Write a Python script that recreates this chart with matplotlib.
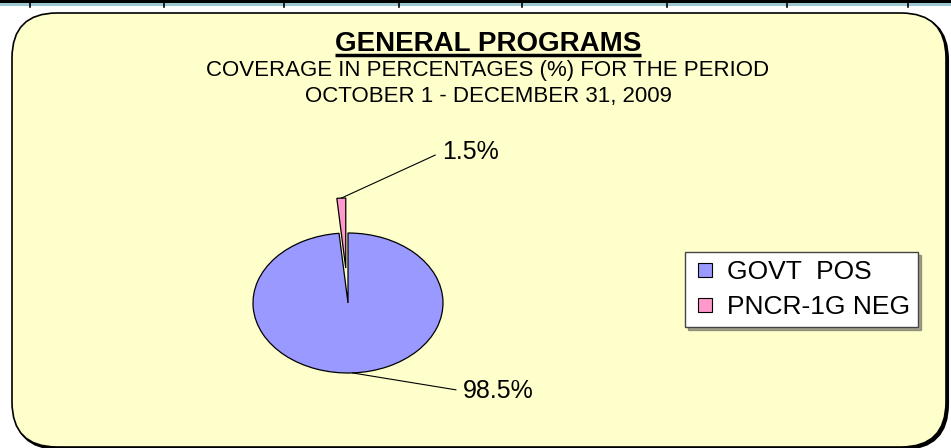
import matplotlib.pyplot as plt
import numpy as np
from matplotlib.patches import FancyBboxPatch
from matplotlib.lines import Line2D

plt.rcParams['font.family'] = ['Liberation Sans', 'DejaVu Sans']

# data
labels = ['GOVT  POS', 'PNCR-1G NEG']
values = [98.5, 1.5]
colors = ['#9999FF', '#FF99CC']
explode = [0, 0.5]

title = 'GENERAL PROGRAMS'
subtitle = ['COVERAGE IN PERCENTAGES (%) FOR THE PERIOD',
            'OCTOBER 1 - DECEMBER 31, 2009']

# where the value labels sit (pie axes units)
label_pos = [(1.21, -1.357), (0.989, 2.057)]

W, H = 951, 448
fig = plt.figure(figsize=(W / 100, H / 100), dpi=100)
fig.patch.set_facecolor('white')

# background axes in pixel units
bg = fig.add_axes([0, 0, 1, 1])
bg.set_xlim(0, W)
bg.set_ylim(H, 0)
bg.axis('off')

# bit of the table above the chart
bg.fill_between([0, W], 0, 3, color='black', lw=0)
bg.fill_between([0, W], 3, 6, color='#9cc9d0', lw=0)
for x in [30, 164, 284, 399, 522, 667, 787, 908]:
    bg.plot([x, x], [0, 7], color='black', lw=1.2)

# chart area, rounded with shadow
bstyle = 'round,pad=0,rounding_size=45'
bg.add_patch(FancyBboxPatch((14, 15), 934, 434, boxstyle=bstyle,
                            fc='black', ec='black', lw=1.5))
bg.add_patch(FancyBboxPatch((12, 13), 934, 434, boxstyle=bstyle,
                            fc='#FFFFCC', ec='black', lw=1.2))

# titles
t = bg.text(488, 51, title, ha='center', va='baseline',
            fontsize=20, fontweight='bold')
bg.text(488, 76, subtitle[0], ha='center', va='baseline', fontsize=16)
bg.text(488, 102, subtitle[1], ha='center', va='baseline', fontsize=16)

# pie
ax = fig.add_axes([253 / W, (H - 373) / H, 190 / W, 140 / H])
wedges, _ = ax.pie(values, colors=colors, explode=explode, startangle=90,
                   counterclock=False,
                   wedgeprops=dict(edgecolor='black', linewidth=0.9))
ax.set_aspect('auto')
ax.set_xlim(-1, 1)
ax.set_ylim(-1, 1)
for w in wedges:
    w.set_clip_on(False)

for w, v, pos in zip(wedges, values, label_pos):
    ang = np.deg2rad((w.theta1 + w.theta2) / 2)
    cx, cy = w.center
    xy = (cx + w.r * np.cos(ang), cy + w.r * np.sin(ang))
    ax.annotate(f'{v}%', xy=xy, xytext=pos, ha='left', va='baseline',
                fontsize=18, annotation_clip=False,
                arrowprops=dict(arrowstyle='-', color='black', lw=0.8,
                                shrinkA=3, shrinkB=0, relpos=(0, 0.5)))

# legend
handles = [Line2D([], [], ls='', marker='s', markersize=10, mfc=c,
                  mec='black', mew=0.8) for c in colors]
leg = fig.legend(handles, labels, loc='upper left',
                 bbox_to_anchor=(685 / W, 1 - 252 / H),
                 bbox_transform=fig.transFigure, borderaxespad=0,
                 fontsize=19, frameon=True, fancybox=False, shadow=True,
                 framealpha=1, borderpad=0.3, labelspacing=0.43,
                 handlelength=0.9, handletextpad=0.38)
leg.get_frame().set_edgecolor('#444444')
leg.get_frame().set_linewidth(1)

# underline the title
fig.canvas.draw()
bb = t.get_window_extent()
bg.plot([bb.x0, bb.x1], [55, 55], color='black', lw=2.5,
        solid_capstyle='butt')

fig.savefig('out.png', dpi=100)
